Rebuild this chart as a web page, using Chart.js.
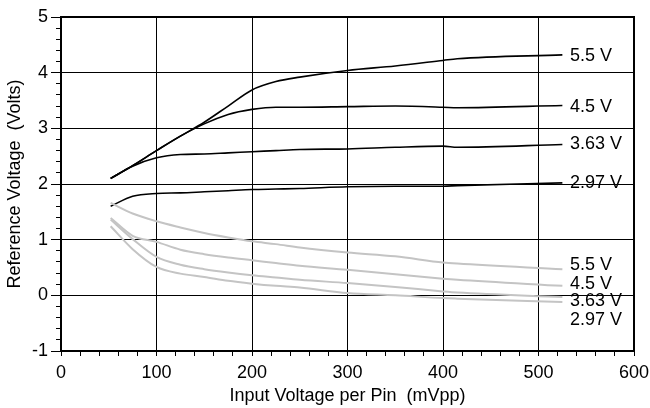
<!DOCTYPE html>
<html>
<head>
<meta charset="utf-8">
<script src="https://cdn.jsdelivr.net/npm/chart.js@4/dist/chart.umd.min.js"></script>
<style>
  html, body { margin: 0; padding: 0; background: #fff; }
  #wrap { width: 650px; height: 408px; position: relative; }
</style>
</head>
<body>
<div id="wrap"><canvas id="c" width="650" height="408"></canvas></div>
<script>
// ---- data ----
const inputVoltage = [52, 75, 100, 125, 150, 175, 200, 225, 250, 300, 350, 400, 415, 525];

const black55  = [2.10, 2.33, 2.60, 2.86, 3.11, 3.40, 3.69, 3.84, 3.92, 4.04, 4.12, 4.22, 4.25, 4.32];
const black45  = [2.10, 2.33, 2.60, 2.86, 3.08, 3.25, 3.34, 3.38, 3.38, 3.39, 3.40, 3.38, 3.37, 3.41];
const black363 = [2.10, 2.32, 2.47, 2.53, 2.54, 2.56, 2.58, 2.60, 2.62, 2.63, 2.66, 2.68, 2.66, 2.71];
const black297 = [1.60, 1.78, 1.83, 1.84, 1.86, 1.88, 1.90, 1.91, 1.92, 1.95, 1.96, 1.96, 1.97, 2.02];

const gray55  = [1.66, 1.47, 1.33, 1.22, 1.12, 1.04, 0.97, 0.92, 0.86, 0.77, 0.70, 0.59, 0.57, 0.47];
const gray45  = [1.39, 1.07, 0.96, 0.82, 0.74, 0.68, 0.63, 0.58, 0.53, 0.46, 0.38, 0.30, 0.28, 0.17];
const gray363 = [1.36, 1.01, 0.69, 0.55, 0.47, 0.41, 0.36, 0.32, 0.28, 0.22, 0.15, 0.07, 0.05, -0.03];
const gray297 = [1.24, 0.83, 0.51, 0.39, 0.33, 0.26, 0.21, 0.17, 0.14, 0.04, 0.00, -0.05, -0.06, -0.12];

const seriesLabels = ['5.5 V', '4.5 V', '3.63 V', '2.97 V'];
const blackLabelY = [4.29, 3.39, 2.71, 2.02];
const grayLabelY  = [0.55, 0.21, -0.11, -0.44];
const labelX = 533;

const xTitle = 'Input Voltage per Pin  (mVpp)';
const yTitle = 'Reference Voltage  (Volts)';

// ---- build datasets ----
function pts(ys) { return inputVoltage.map((x, i) => ({ x: x, y: ys[i] })); }
function ds(ys, color, name, w) {
  return {
    label: name, data: pts(ys), borderColor: color, borderWidth: w,
    pointRadius: 0, fill: false, cubicInterpolationMode: 'monotone'
  };
}
const BLACK = '#000000', GRAY = '#c4c4c4';
const datasets = [
  ds(gray55, GRAY, 'g5.5', 2), ds(gray45, GRAY, 'g4.5', 2), ds(gray363, GRAY, 'g3.63', 2), ds(gray297, GRAY, 'g2.97', 2),
  ds(black55, BLACK, 'b5.5', 1.6), ds(black45, BLACK, 'b4.5', 1.6), ds(black363, BLACK, 'b3.63', 1.6), ds(black297, BLACK, 'b2.97', 1.6)
];

const FAMILY = '"Liberation Sans", Arial, sans-serif';
const FONT = { family: FAMILY, size: 18 };

const frame = {
  id: 'frame',
  afterDatasetsDraw(chart) {
    const { ctx, chartArea: a, scales } = chart;
    ctx.save();
    ctx.strokeStyle = '#000';
    ctx.lineWidth = 2;
    ctx.strokeRect(a.left, a.top, a.right - a.left, a.bottom - a.top);
    ctx.font = '18px ' + FAMILY;
    ctx.fillStyle = '#000';
    ctx.textBaseline = 'middle';
    ctx.textAlign = 'left';
    const px = scales.x.getPixelForValue(labelX);
    seriesLabels.forEach((t, i) => {
      ctx.fillText(t, px, scales.y.getPixelForValue(blackLabelY[i]));
      ctx.fillText(t, px, scales.y.getPixelForValue(grayLabelY[i]));
    });
    ctx.restore();
  }
};

const isMajor = (v, step) => Math.abs(v / step - Math.round(v / step)) < 1e-6;

new Chart(document.getElementById('c'), {
  type: 'line',
  data: { datasets: datasets },
  plugins: [frame],
  options: {
    responsive: false,
    animation: false,
    layout: { padding: { top: 17, right: 16, left: 0, bottom: 0 } },
    plugins: { legend: { display: false }, tooltip: { enabled: false } },
    scales: {
      x: {
        type: 'linear', min: 0, max: 600, weight: 0,
        afterFit(s) { s.height = 57; s.paddingLeft = 0; s.paddingRight = 0; },
        ticks: {
          stepSize: 20, autoSkip: false, maxRotation: 0, color: '#000', font: FONT, padding: 6,
          callback: v => isMajor(v, 100) ? String(v) : ''
        },
        grid: {
          color: c => (c.tick && isMajor(c.tick.value, 100)) ? '#000' : 'rgba(0,0,0,0)',
          tickColor: '#000', tickLength: 5, lineWidth: 1
        },
        border: { color: '#000', width: 2 },
        title: { display: true, text: xTitle, color: '#000', font: FONT, padding: { top: 0, bottom: 1 } }
      },
      yMinor: {
        type: 'linear', position: 'left', min: -1, max: 5, weight: 0,
        afterFit(s) { s.width = 0; s.paddingTop = 0; s.paddingBottom = 0; },
        ticks: { stepSize: 0.2, autoSkip: false, display: false },
        grid: { drawOnChartArea: false, tickColor: '#000', tickLength: 5, lineWidth: 1 },
        border: { display: false }
      },
      y: {
        type: 'linear', position: 'left', min: -1, max: 5, weight: 1,
        afterFit(s) { s.width = 61; s.paddingTop = 0; s.paddingBottom = 0; },
        ticks: {
          stepSize: 1, autoSkip: false, color: '#000', font: FONT, padding: 3,
          callback: v => String(Math.round(v))
        },
        grid: { color: '#000', tickColor: '#000', tickLength: 10, lineWidth: 1 },
        border: { color: '#000', width: 2 },
        title: { display: true, text: yTitle, color: '#000', font: FONT, padding: { top: 4, bottom: 0 } }
      }
    }
  }
});
</script>
</body>
</html>
